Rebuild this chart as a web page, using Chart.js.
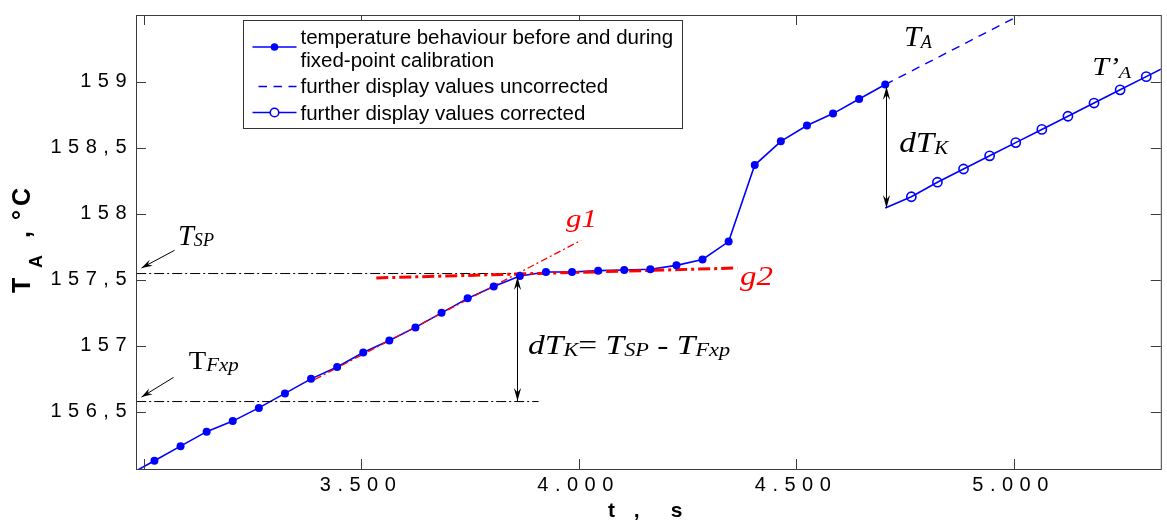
<!DOCTYPE html>
<html>
<head>
<meta charset="utf-8">
<title>Fixed-point calibration</title>
<script src="https://cdn.jsdelivr.net/npm/chart.js@4.4.1/dist/chart.umd.min.js"></script>
<style>
  html, body { margin: 0; padding: 0; background: #fff; }
  #wrap { width: 1167px; height: 521px; }
</style>
</head>
<body>
<div id="wrap"><canvas id="chart" width="1167" height="521"></canvas></div>
<script>
// temperature before and during the fixed-point plateau (t in s, T_A in °C)
const mainTime = [2965, 3025, 3085, 3145, 3205, 3265, 3325, 3385, 3445, 3505, 3565, 3625, 3685, 3745, 3805,
  3865, 3925, 3985, 4045, 4105, 4165, 4225, 4285, 4345, 4405, 4465, 4525, 4585, 4645, 4705];
const mainTemp = [156.02, 156.13, 156.24, 156.35, 156.43, 156.53, 156.64, 156.75, 156.84, 156.95, 157.04, 157.14, 157.25, 157.36, 157.45,
  157.53, 157.56, 157.56, 157.57, 157.575, 157.58, 157.61, 157.655, 157.79, 158.37, 158.55, 158.67, 158.76, 158.87, 158.98];

// further display values, uncorrected (dashed)
const uncorrTime = [4705, 5105];
const uncorrTemp = [158.98, 159.66];

// further display values, corrected by dT_K
const corrTime = [4705, 4765, 4825, 4885, 4945, 5005, 5065, 5125, 5185, 5245, 5305, 5365];
const corrTemp = [158.045, 158.13, 158.24, 158.34, 158.44, 158.54, 158.64, 158.74, 158.84, 158.94, 159.04, 159.14];

// fitted lines g1 (rise) and g2 (plateau)
const g1Time = [3394, 4006];
const g1Temp = [156.746, 157.80];
const g2Time = [3535, 4365];
const g2Temp = [157.515, 157.59];

// reference levels T_SP and T_Fxp
const spTime = [2983, 3865];
const spTemp = [157.548, 157.548];
const fxpTime = [2983, 3908];
const fxpTemp = [156.578, 156.578];

const xTicks = [3000, 3500, 4000, 4500, 5000];
const xTickText = ['', '3.500', '4.000', '4.500', '5.000'];
const yTicks = [156.5, 157, 157.5, 158, 158.5, 159];
const yTickText = ['156,5', '157', '157,5', '158', '158,5', '159'];

const legendText = [
  ['temperature behaviour before and during', 'fixed-point calibration'],
  ['further display values uncorrected'],
  ['further display values corrected']
];

const BLUE = '#0000ff';
const RED = '#ff0000';
const AXIS = '#3c3c3c';
const SANS = "'Liberation Sans', Arial, sans-serif";
const SERIF = "'Liberation Serif', 'Times New Roman', serif";

// arrows in data units (t, T)
const arrows = [
  { from: [3859, 157.522], to: [3859, 156.582], both: true },
  { from: [4707, 158.963], to: [4707, 158.045], both: true },
  { from: [3069.5, 157.724], to: [2994, 157.590] },
  { from: [3067, 156.761], to: [2995, 156.612] }
];

// text annotations: anchor (t, T) at left/baseline, fitted width, parts [text, style, size, dy]
const notes = [
  { at: [3079, 157.761], width: 36, color: '#000', parts: [['T', 'italic', 30, 0], ['SP', 'italic', 19, 1]] },
  { at: [3104, 156.828], width: 50, color: '#000', parts: [['T', 'normal', 26, 0], ['Fxp', 'italic', 19, 2]] },
  { at: [3971, 157.903], width: 31, color: RED, parts: [['g1', 'italic', 26, 0]] },
  { at: [4371, 157.463], width: 33, color: RED, parts: [['g2', 'italic', 27, 0]] },
  { at: [3884, 156.940], width: 202, color: '#000', parts: [['dT', 'italic', 27, 0], ['K', 'italic', 18, 2], ['=', 'normal', 27, 0],
    [' T', 'italic', 27, 0], ['SP', 'italic', 18, 2], [' - ', 'normal', 27, 0], ['T', 'italic', 27, 0], ['Fxp', 'italic', 18, 2]] },
  { at: [4748, 159.269], width: 28, color: '#000', parts: [['T', 'italic', 30, 0], ['A', 'italic', 18, 2]] },
  { at: [4737, 158.470], width: 49, color: '#000', parts: [['dT', 'italic', 30, 0], ['K', 'italic', 19, 2]] },
  { at: [5181, 159.050], width: 39, color: '#000', parts: [['T\u2019', 'italic', 25, 0], ['A', 'italic', 17, 3]] }
];

const pts = (xs, ys) => xs.map((x, i) => ({ x: x, y: ys[i] }));

function drawRun(ctx, parts, x, y, width, color) {
  ctx.save();
  ctx.fillStyle = color;
  ctx.textAlign = 'left';
  ctx.textBaseline = 'alphabetic';
  let natural = 0;
  const sized = parts.map(function (p) {
    ctx.font = p[1] + ' ' + p[2] + 'px ' + SERIF;
    const w = ctx.measureText(p[0]).width;
    natural += w;
    return { text: p[0], font: ctx.font, w: w, dy: p[3] };
  });
  ctx.translate(x, y);
  ctx.scale(width ? width / natural : 1, 1);
  let cx = 0;
  sized.forEach(function (p) {
    ctx.font = p.font;
    ctx.fillText(p.text, cx, p.dy);
    cx += p.w;
  });
  ctx.restore();
}

function arrowHead(ctx, x, y, ang, len, half) {
  const dx = Math.cos(ang), dy = Math.sin(ang);
  ctx.beginPath();
  ctx.moveTo(x, y);
  ctx.lineTo(x - len * dx - half * dy, y - len * dy + half * dx);
  ctx.lineTo(x - 0.65 * len * dx, y - 0.65 * len * dy);
  ctx.lineTo(x - len * dx + half * dy, y - len * dy - half * dx);
  ctx.closePath();
  ctx.fill();
}

function drawLegend(chart) {
  const ctx = chart.ctx;
  const ds = chart.data.datasets;
  ctx.save();
  ctx.fillStyle = '#fff';
  ctx.fillRect(243.5, 20.5, 439, 108);
  ctx.strokeStyle = '#333';
  ctx.lineWidth = 1;
  ctx.strokeRect(243.5, 20.5, 439, 108);

  const samples = [
    { line: ds[0], mark: ds[7], y: 47, textY: [43.5, 66.5] },
    { line: ds[1], mark: null, y: 86.5, textY: [93] },
    { line: ds[2], mark: ds[2], y: 112.5, textY: [120] }
  ];
  samples.forEach(function (s, i) {
    ctx.strokeStyle = s.line.borderColor;
    ctx.lineWidth = s.line.borderWidth;
    ctx.setLineDash(s.line.borderDash || []);
    ctx.lineDashOffset = s.line.borderDash ? -2 : 0;
    ctx.beginPath();
    ctx.moveTo(s.line.borderDash ? 256.5 : 252.5, s.y);
    ctx.lineTo(296.5, s.y);
    ctx.stroke();
    ctx.setLineDash([]);
    if (s.mark) {
      const r = s.mark === ds[2] ? 4.3 : 3.8;
      ctx.beginPath();
      ctx.arc(274.5, s.y, r, 0, Math.PI * 2);
      if (s.mark === ds[2]) {
        ctx.fillStyle = '#fff';
        ctx.fill();
        ctx.lineWidth = 1.6;
        ctx.strokeStyle = BLUE;
        ctx.stroke();
      } else {
        ctx.fillStyle = BLUE;
        ctx.fill();
      }
    }
    ctx.fillStyle = '#000';
    ctx.font = '20.5px ' + SANS;
    ctx.textBaseline = 'alphabetic';
    ctx.textAlign = 'left';
    legendText[i].forEach(function (t, k) { ctx.fillText(t, 300.5, s.textY[k]); });
  });
  ctx.restore();
}

function drawYTitle(ctx) {
  ctx.save();
  ctx.translate(30, 293);
  ctx.rotate(-Math.PI / 2);
  ctx.fillStyle = '#000';
  ctx.textAlign = 'left';
  ctx.textBaseline = 'alphabetic';
  ctx.font = 'bold 25px ' + SANS;
  ctx.fillText('T', 0, 0);
  ctx.font = 'bold 18px ' + SANS;
  ctx.fillText('A', 25, 12);
  ctx.font = 'bold 25px ' + SANS;
  ctx.fillText(',', 55, 0);
  ctx.fillText('\u00b0', 73, 0);
  ctx.fillText('C', 87, 0);
  ctx.restore();
}

const framePlugin = {
  id: 'frame',
  beforeDraw(chart) {
    const ctx = chart.ctx;
    ctx.save();
    ctx.fillStyle = '#fff';
    ctx.fillRect(0, 0, chart.width, chart.height);
    ctx.restore();
    ctx.letterSpacing = '6.5px';
  },
  beforeDatasetsDraw(chart) {
    chart.ctx.letterSpacing = '0px';
  },
  afterDatasetsDraw(chart) {
    const ctx = chart.ctx;
    const xs = chart.scales.x, ys = chart.scales.y;
    const a = chart.chartArea;
    ctx.save();
    ctx.strokeStyle = AXIS;
    ctx.lineWidth = 1;
    ctx.beginPath();
    xs.ticks.forEach(function (t) {
      const x = Math.round(xs.getPixelForValue(t.value)) + 0.5;
      ctx.moveTo(x, a.bottom); ctx.lineTo(x, a.bottom - 10);
      ctx.moveTo(x, a.top); ctx.lineTo(x, a.top + 10);
    });
    ys.ticks.forEach(function (t) {
      const y = Math.round(ys.getPixelForValue(t.value)) + 0.5;
      ctx.moveTo(a.left, y); ctx.lineTo(a.left + 10, y);
      ctx.moveTo(a.right, y); ctx.lineTo(a.right - 10, y);
    });
    ctx.stroke();
    ctx.strokeRect(a.left + 0.5, a.top + 0.5, a.right - a.left, a.bottom - a.top);

    // arrows
    ctx.strokeStyle = '#000';
    ctx.fillStyle = '#000';
    arrows.forEach(function (ar) {
      const x1 = Math.round(xs.getPixelForValue(ar.from[0])) + 0.5, y1 = ys.getPixelForValue(ar.from[1]);
      const x2 = Math.round(xs.getPixelForValue(ar.to[0])) + 0.5, y2 = ys.getPixelForValue(ar.to[1]);
      ctx.beginPath();
      ctx.moveTo(x1, y1);
      ctx.lineTo(x2, y2);
      ctx.stroke();
      const ang = Math.atan2(y2 - y1, x2 - x1);
      if (ar.both) {
        arrowHead(ctx, x2, y2, ang, 13, 3.6);
        arrowHead(ctx, x1, y1, ang + Math.PI, 13, 3.6);
      } else {
        arrowHead(ctx, x2, y2, ang, 11, 3.4);
      }
    });

    notes.forEach(function (n) {
      drawRun(ctx, n.parts, xs.getPixelForValue(n.at[0]), ys.getPixelForValue(n.at[1]), n.width, n.color);
    });
    ctx.restore();
  },
  afterDraw(chart) {
    drawLegend(chart);
    drawYTitle(chart.ctx);
  }
};

Chart.defaults.font.family = SANS;
Chart.defaults.color = '#000';

new Chart(document.getElementById('chart'), {
  type: 'line',
  data: {
    datasets: [
      { label: 'temperature behaviour (line)', data: pts(mainTime, mainTemp), borderColor: BLUE, borderWidth: 1.6,
        pointRadius: 0, order: 6, clip: 0 },
      { label: 'further display values uncorrected', data: pts(uncorrTime, uncorrTemp), borderColor: BLUE, borderWidth: 1.4,
        borderDash: [8.5, 6.5], pointRadius: 0, order: 5, clip: 0 },
      { label: 'further display values corrected', data: pts(corrTime, corrTemp), borderColor: BLUE, borderWidth: 1.6,
        pointRadius: function (c) { return c.dataIndex === 0 ? 0 : 4.6; }, pointBorderWidth: 1.6,
        pointBorderColor: BLUE, pointBackgroundColor: 'rgba(255,255,255,0)', order: 2, clip: 0 },
      { label: 'T_SP', data: pts(spTime, spTemp), borderColor: '#000', borderWidth: 1, borderDash: [10, 3, 2, 3],
        pointRadius: 0, order: 5, clip: 0 },
      { label: 'T_Fxp', data: pts(fxpTime, fxpTemp), borderColor: '#000', borderWidth: 1, borderDash: [10, 3, 2, 3],
        pointRadius: 0, order: 5, clip: 0 },
      { label: 'g1', data: pts(g1Time, g1Temp), borderColor: RED, borderWidth: 1.3, borderDash: [7, 3, 2, 3],
        pointRadius: 0, order: 3, clip: 0 },
      { label: 'g2', data: pts(g2Time, g2Temp), borderColor: RED, borderWidth: 3, borderDash: [12, 4, 3, 4],
        pointRadius: 0, order: 3, clip: 0 },
      { label: 'temperature behaviour before and during fixed-point calibration', data: pts(mainTime, mainTemp),
        showLine: false, pointRadius: 4, pointBorderWidth: 0, pointBackgroundColor: BLUE, pointBorderColor: BLUE,
        order: 1, clip: 0 }
    ]
  },
  options: {
    responsive: false,
    devicePixelRatio: 1,
    animation: false,
    events: [],
    layout: { padding: { top: 8, right: 1, left: 0, bottom: 0 } },
    plugins: { legend: { display: false }, tooltip: { enabled: false } },
    scales: {
      x: {
        type: 'linear',
        min: 2982.6,
        max: 5338.5,
        grid: { display: false, drawTicks: false },
        border: { display: false },
        afterBuildTicks: function (s) { s.ticks = xTicks.map(function (v) { return { value: v }; }); },
        afterFit: function (s) { s.height = 52; },
        ticks: { autoSkip: false, maxRotation: 0, padding: 4, font: { size: 20 },
          callback: function (v, i) { return xTickText[i]; } },
        title: { display: true, text: 't ,  s', font: { size: 21, weight: 'bold', lineHeight: 0.9 }, padding: 0 }
      },
      y: {
        type: 'linear',
        min: 156.067,
        max: 159.507,
        grid: { display: false, drawTicks: false },
        border: { display: false },
        afterBuildTicks: function (s) { s.ticks = yTicks.map(function (v) { return { value: v }; }); },
        afterFit: function (s) { s.width = 136; },
        ticks: { autoSkip: false, padding: 3, font: { size: 20 },
          callback: function (v, i) { return yTickText[i]; } }
      }
    }
  },
  plugins: [framePlugin]
});
</script>
</body>
</html>
